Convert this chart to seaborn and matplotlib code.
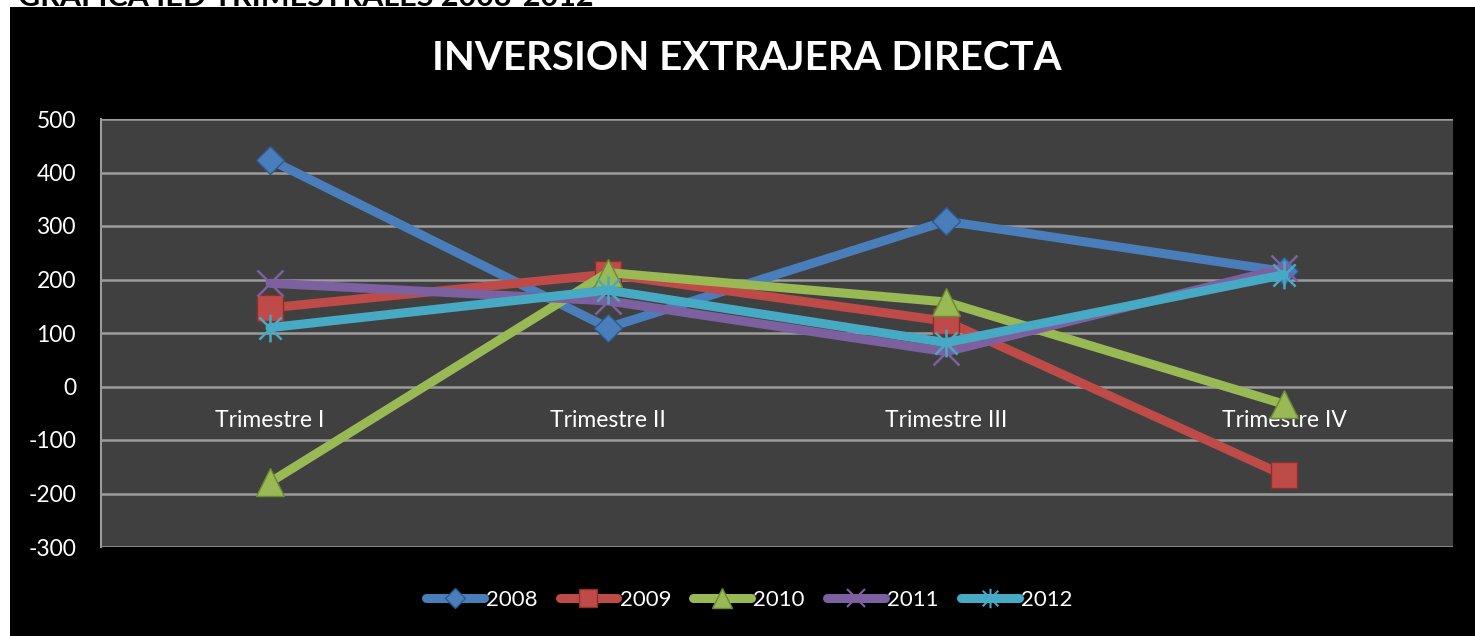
import matplotlib
matplotlib.use("Agg")
import matplotlib.pyplot as plt
from matplotlib.patches import Rectangle
from matplotlib.lines import Line2D
from matplotlib.path import Path
import seaborn as sns

quarters = ["Trimestre I", "Trimestre II", "Trimestre III", "Trimestre IV"]
years = ["2008", "2009", "2010", "2011", "2012"]
v2008 = [424, 110, 309, 215]
v2009 = [147, 210, 122, -166]
v2010 = [-179, 213, 158, -33]
v2011 = [193, 160, 65, 221]
v2012 = [110, 180, 82, 209]
yticks = [500, 400, 300, 200, 100, 0, -100, -200, -300]
title = "INVERSION EXTRAJERA DIRECTA"
top_text = "GRAFICA IED TRIMESTRALES 2008-2012"

star = Path([(0, -1), (0, 1), (-0.8, -0.8), (0.8, 0.8), (-0.8, 0.8), (0.8, -0.8)],
            [Path.MOVETO, Path.LINETO, Path.MOVETO, Path.LINETO, Path.MOVETO, Path.LINETO])

series = [v2008, v2009, v2010, v2011, v2012]
colors = ["#4A7EBB", "#BE4B48", "#98B954", "#7D60A0", "#46AAC5"]
edges = ["#2C5A8F", "#8E2F2C", "#6A8A35", "#7D60A0", "#46AAC5"]
markers = ["D", "s", "^", "x", star]
msizes = [14, 19, 20, 19, 20]

sns.set_theme(style="dark")
plt.rcParams["font.family"] = ["Lato", "DejaVu Sans"]

W, H = 1475, 636
fig = plt.figure(figsize=(W / 100, H / 100), dpi=100, facecolor="white")
fig.patches.append(Rectangle((10 / W, 0), 1 - 10 / W, 1 - 7 / H,
                             transform=fig.transFigure, facecolor="black",
                             edgecolor="none", zorder=-10))
fig.text(18 / W, 1 - 6 / H, top_text, color="black", fontsize=22,
         fontweight="bold", ha="left", va="baseline")

ax = fig.add_axes([101 / W, 1 - 547 / H, (1453 - 101) / W, (547 - 119) / H])
ax.set_facecolor("#404040")

def is_thin(m):
    return not isinstance(m, str) or m == "x"

for vals, y, c, ec, m, ms in zip(series, years, colors, edges, markers, msizes):
    thin = is_thin(m)
    sns.lineplot(x=quarters, y=vals, ax=ax, color=c, lw=6.5, marker=m,
                 markersize=ms, markeredgecolor=ec if not thin else c,
                 markerfacecolor=c if not thin else "none",
                 markeredgewidth=1.8 if thin else 1.0, label=y, sort=False)

ax.set_xlim(-0.5, 3.5)
ax.set_ylim(-300, 500)
ax.set_yticks(yticks)
ax.set_yticklabels([str(t) for t in yticks])
ax.grid(axis="y", color="#9C9C9C", lw=1.8)
ax.grid(axis="x", visible=False)
ax.set_axisbelow(True)
for s in ["top", "right"]:
    ax.spines[s].set_visible(False)
ax.spines["left"].set_color("#9C9C9C")
ax.spines["left"].set_linewidth(1.5)
ax.spines["bottom"].set_position(("data", 0))
ax.spines["bottom"].set_visible(False)
ax.tick_params(axis="y", length=0, pad=18, labelcolor="white", labelsize=16.5)
ax.tick_params(axis="x", length=0, pad=17, labelcolor="white", labelsize=16.5)
ax.set_xlabel("")
ax.set_ylabel("")
ax.get_legend().remove()

fig.text(747 / W, 1 - 58 / H, title, color="white", fontsize=29,
         fontweight="bold", ha="center", va="center")

handles = []
for y, c, ec, m, ms in zip(years, colors, edges, markers, msizes):
    thin = is_thin(m)
    handles.append(Line2D([], [], color=c, lw=6.5, marker=m, markersize=ms * 0.7,
                          markeredgecolor=ec if not thin else c,
                          markerfacecolor=c if not thin else "none",
                          markeredgewidth=1.5 if thin else 1.0,
                          solid_capstyle="round"))
fig.legend(handles, years, loc="center", bbox_to_anchor=(749 / W, 1 - 600 / H),
           ncol=5, frameon=False, labelcolor="white", fontsize=16,
           handlelength=2.6, handletextpad=0.1, columnspacing=1.0)

fig.savefig("out.png", dpi=100, facecolor="white")
